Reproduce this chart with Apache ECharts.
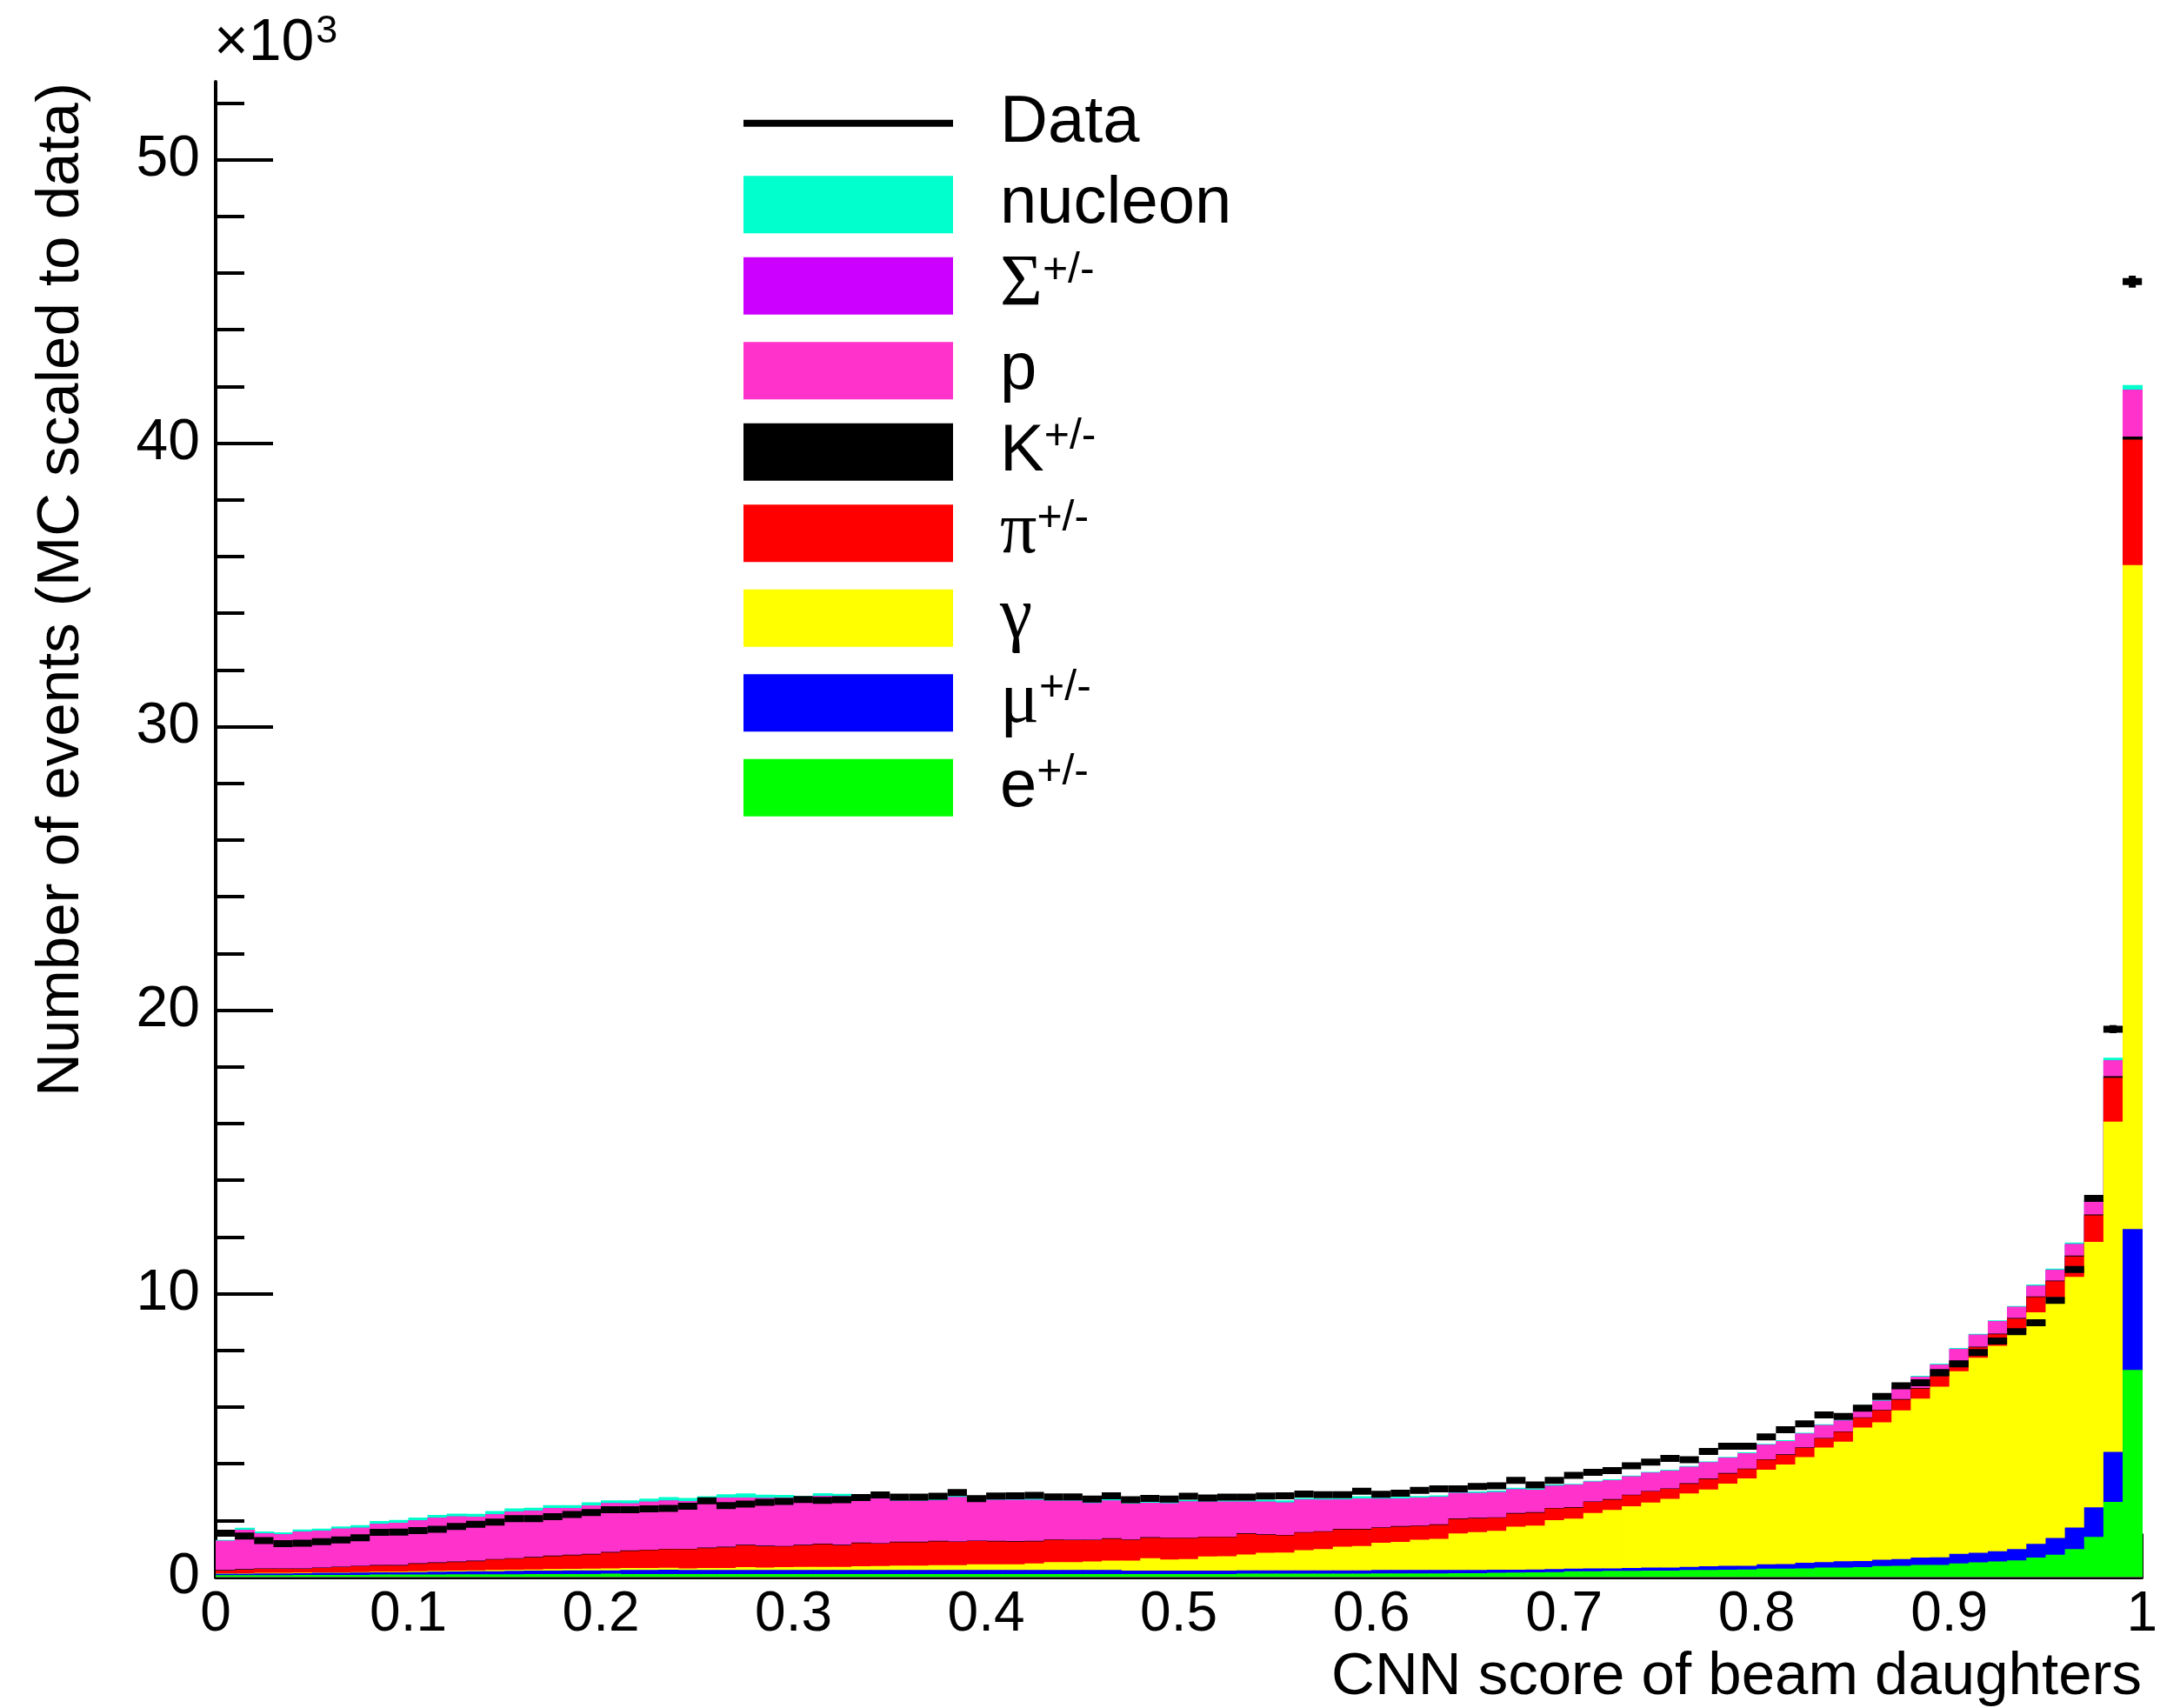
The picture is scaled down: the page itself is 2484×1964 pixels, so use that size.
<!DOCTYPE html>
<html><head><meta charset="utf-8">
<script src="https://cdn.jsdelivr.net/npm/echarts@6/dist/echarts.min.js"></script>
<style>html,body{margin:0;padding:0;background:#fff}#c{width:2484px;height:1964px}</style>
</head><body><div id="c"></div><script>
// values in units of 10^3 events, 100 bins of width 0.01 in CNN score
const binWidth = 0.01;
const xTickLabels = ['0','0.1','0.2','0.3','0.4','0.5','0.6','0.7','0.8','0.9','1'];
const yTickLabels = ['0','10','20','30','40','50'];

const electron = [.07,.07,.07,.07,.08,.08,.08,.08,.09,.09,.09,.09,.10,.10,.10,.10,.11,.11,.11,.11,.12,.11,.11,.11,
 .11,.11,.11,.11,.11,.11,.11,.11,.11,.11,.11,.11,.11,.11,.11,.11,.11,.11,.11,.11,.11,.11,.11,
 .11,.11,.11,.11,.11,.11,.12,.12,.12,.12,.12,.12,.12,.13,.13,.13,.13,.14,.14,.15,.16,.17,.18,
 .21,.21,.22,.22,.23,.23,.25,.25,.26,.27,.30,.30,.31,.34,.34,.35,.39,.40,.43,.43,.48,.52,.55,.59,.69,.79,.99,1.42,2.65,7.31];
const muon = [.05,.05,.06,.06,.06,.07,.07,.08,.08,.08,.09,.10,.10,.11,.11,.12,.12,.12,.13,.13,.12,.14,.14,.15,
 .14,.14,.14,.14,.14,.14,.14,.14,.14,.14,.14,.14,.14,.14,.14,.14,.14,.14,.14,.14,.14,.14,.14,
 .12,.12,.12,.12,.12,.12,.12,.12,.12,.12,.12,.12,.12,.12,.12,.12,.12,.11,.11,.11,.10,.10,.10,
 .09,.10,.09,.10,.11,.11,.11,.13,.14,.13,.15,.16,.20,.19,.22,.22,.22,.24,.26,.27,.34,.34,.36,.40,.48,.59,.76,1.04,1.77,4.97];
const gamma = [.02,.02,.02,.02,.02,.02,.02,.02,.02,.02,.03,.03,.03,.03,.04,.04,.04,.05,.05,.06,.07,.07,.07,.07,
 .06,.07,.07,.10,.09,.10,.11,.11,.11,.13,.14,.16,.16,.17,.17,.20,.20,.20,.23,.28,.28,.30,.33,
 .35,.44,.39,.41,.50,.51,.56,.62,.63,.71,.75,.83,.86,.96,.99,1.07,1.10,1.29,1.34,1.37,1.52,1.55,1.73,
 1.76,1.95,2.06,2.18,2.29,2.42,2.59,2.71,2.90,3.08,3.34,3.51,3.72,4.04,4.22,4.71,4.85,5.24,5.61,6.02,6.44,6.88,7.25,7.70,8.17,8.49,8.84,9.37,11.65,23.42];
const pion = [.09,.12,.14,.14,.13,.15,.18,.20,.22,.22,.26,.28,.30,.32,.37,.39,.42,.46,.48,.50,.56,.60,.63,.65,
 .67,.70,.73,.77,.75,.73,.76,.80,.76,.82,.79,.82,.82,.84,.82,.82,.81,.80,.78,.78,.77,.75,.77,
 .73,.72,.75,.73,.68,.67,.73,.63,.60,.62,.61,.61,.58,.53,.54,.48,.49,.51,.48,.46,.46,.45,.41,
 .39,.39,.36,.39,.39,.35,.34,.37,.35,.33,.35,.34,.33,.32,.34,.34,.42,.38,.35,.37,.35,.37,.41,.43,.54,.57,.72,.93,1.55,4.43];
const kaon = [.02,.02,.02,.02,.02,.02,.02,.02,.02,.02,.02,.02,.02,.02,.02,.02,.02,.02,.02,.02,.02,.02,.02,.02,
 .02,.02,.02,.02,.02,.02,.02,.02,.02,.02,.02,.02,.02,.02,.02,.02,.02,.02,.02,.02,.02,.02,.02,
 .02,.02,.02,.02,.02,.02,.02,.02,.02,.02,.02,.02,.02,.02,.02,.02,.02,.02,.02,.02,.02,.02,.02,
 .02,.02,.02,.02,.02,.02,.02,.02,.02,.02,.02,.02,.02,.02,.02,.02,.02,.02,.02,.02,.02,.02,.02,.02,.02,.02,.03,.03,.05,.10];
const proton = [1.03,1.39,1.23,1.20,1.29,1.29,1.34,1.34,1.45,1.49,1.51,1.57,1.59,1.55,1.58,1.64,1.63,1.67,1.64,1.71,1.72,1.66,1.69,1.70,
 1.68,1.68,1.73,1.67,1.68,1.70,1.60,1.68,1.71,1.61,1.57,1.44,1.44,1.43,1.56,1.42,1.44,1.45,1.44,1.36,1.37,1.29,1.33,
 1.26,1.21,1.21,1.28,1.23,1.23,1.11,1.15,1.14,1.15,1.11,1.04,1.08,1.00,.97,.99,.97,.90,.88,.89,.84,.79,.78,
 .79,.70,.67,.64,.64,.63,.58,.57,.54,.54,.51,.47,.48,.45,.38,.40,.32,.39,.40,.39,.42,.42,.44,.39,.38,.38,.41,.47,.56,1.65];
const sigma = [0,0,0,0,0,0,0,0,0,0,0,0,0,0,0,0,0,0,0,0,0,0,0,0,0,0,0,0,0,0,0,0,0,0,0,0,0,0,0,0,0,0,0,0,0,0,0,0,0,0,
 0,0,0,0,0,0,0,0,0,0,0,0,0,0,0,0,0,0,0,0,0,0,0,0,0,0,0,0,0,0,0,0,0,0,0,0,0,0,0,0,0,0,0,0,0,0,0,0,0,0];
const nucleon = [.03,.07,.07,.07,.08,.08,.08,.09,.10,.10,.10,.10,.10,.10,.11,.11,.11,.11,.11,.11,.10,.11,.11,.12,
 .11,.13,.12,.14,.12,.10,.12,.10,.09,.07,.04,.05,.05,.05,.05,.05,.05,.05,.05,.05,.05,.05,.05,
 .05,.05,.05,.05,.05,.05,.05,.07,.08,.05,.05,.05,.07,.05,.06,.05,.05,.05,.05,.05,.05,.05,.05,
 .03,.03,.03,.03,.03,.03,.03,.03,.03,.03,.03,.03,.03,.03,.03,.03,.03,.03,.03,.03,.03,.03,.03,.03,.04,.04,.05,.06,.09,.17];
const dataVals = [1.55,1.45,1.29,1.18,1.20,1.25,1.31,1.39,1.58,1.59,1.64,1.69,1.79,1.86,1.94,2.06,2.06,2.13,2.21,2.28,2.38,2.38,2.41,2.42,
 2.50,2.69,2.52,2.58,2.64,2.67,2.74,2.71,2.73,2.81,2.90,2.82,2.82,2.85,2.98,2.77,2.86,2.87,2.88,2.83,2.83,2.75,2.87,
 2.73,2.78,2.75,2.85,2.79,2.82,2.82,2.86,2.87,2.93,2.91,2.91,3.03,2.92,2.96,3.06,3.11,3.11,3.20,3.22,3.41,3.25,3.41,
 3.59,3.70,3.76,3.93,4.06,4.19,4.14,4.43,4.62,4.62,4.95,5.20,5.41,5.72,5.67,5.96,6.37,6.75,6.86,7.22,7.52,7.92,8.33,8.66,8.97,9.76,10.85,13.36,19.33,45.7];
// statistical error bars on data (only the last bins are visibly larger than the marker line)
const dataErr = [.04,.04,.04,.03,.03,.04,.04,.04,.04,.04,.04,.04,.04,.04,.04,.05,.05,.05,.05,.05,.05,.05,.05,.05,
 .05,.05,.05,.05,.05,.05,.05,.05,.05,.05,.05,.05,.05,.05,.05,.05,.05,.05,.05,.05,.05,.05,.05,
 .05,.05,.05,.05,.05,.05,.05,.05,.05,.05,.05,.05,.06,.05,.05,.06,.06,.06,.06,.06,.06,.06,.06,
 .06,.06,.06,.06,.06,.06,.06,.07,.07,.07,.07,.07,.07,.08,.08,.08,.08,.08,.08,.09,.09,.09,.09,.09,.09,.10,.10,.12,.14,.21];

const layerNames = ['e+/-','μ+/-','γ','π+/-','K+/-','p','Σ+/-','nucleon']; // bottom -> top
const layerColors = ['#00ff00','#0000ff','#ffff00','#ff0000','#000000','#ff33cc','#cc00ff','#00ffcc'];
const layers = [electron, muon, gamma, pion, kaon, proton, sigma, nucleon];

const binLow = dataVals.map((_, i) => i * binWidth);
// cumulative stacks
const cum = [];
layers.forEach((arr, k) => {
  cum.push(arr.map((v, i) => v + (k ? cum[k - 1][i] : 0)));
});

function rectItem(params, api) {
  const p0 = api.coord([api.value(0), 0]);
  const p1 = api.coord([api.value(1), api.value(2)]);
  return {type: 'rect', shape: {x: p0[0], y: p1[1], width: p1[0] - p0[0] + 0.8, height: p0[1] - p1[1]},
    style: {fill: api.visual('color')}};
}
const series = [];
for (let k = layers.length - 1; k >= 0; k--) {
  series.push({
    type: 'custom', name: layerNames[k], renderItem: rectItem, clip: true, silent: true,
    itemStyle: {color: layerColors[k]},
    encode: {x: [0, 1], y: 2},
    data: binLow.map((lo, i) => [lo, lo + binWidth, cum[k][i]])
  });
}
series.push({
  type: 'custom', name: 'Data', clip: true, silent: true, z: 5,
  itemStyle: {color: '#000'},
  encode: {x: [0, 1], y: [2, 3, 4]},
  data: binLow.map((lo, i) => [lo, lo + binWidth, dataVals[i], dataVals[i] - dataErr[i], dataVals[i] + dataErr[i]]),
  renderItem: (params, api) => {
    const a = api.coord([api.value(0), api.value(2)]);
    const b = api.coord([api.value(1), api.value(2)]);
    const mid = (api.value(0) + api.value(1)) / 2;
    const lo = api.coord([mid, api.value(3)]);
    const hi = api.coord([mid, api.value(4)]);
    return {type: 'group', children: [
      {type: 'line', shape: {x1: a[0], y1: a[1], x2: b[0], y2: b[1]}, style: {stroke: '#000', lineWidth: 8}},
      {type: 'line', shape: {x1: lo[0], y1: lo[1], x2: hi[0], y2: hi[1]}, style: {stroke: '#000', lineWidth: 8}}
    ]};
  }
});

const FONT = '"Liberation Sans", Arial, Helvetica, sans-serif';
const legendRich = {
  sp: {width: 49, fontSize: 76, lineHeight: 84},
  t: {fontSize: 76, fontFamily: FONT, color: '#000', lineHeight: 84},
  g: {fontSize: 84, fontFamily: '"Liberation Serif", "DejaVu Serif", serif', color: '#000', lineHeight: 84},
  s: {fontSize: 50, fontFamily: FONT, color: '#000', verticalAlign: 'top', padding: [0, 0, 34, 0]}
};
const legendText = {
  'Data': '{sp|}{t|Data}{s| }', 'nucleon': '{sp|}{t|nucleon}{s| }', 'Σ+/-': '{sp|}{g|Σ}{s|+/-}', 'p': '{sp|}{t|p}{s| }',
  'K+/-': '{sp|}{t|K}{s|+/-}', 'π+/-': '{sp|}{g|π}{s|+/-}', 'γ': '{sp|}{g|γ}{s| }', 'μ+/-': '{sp|}{g|μ}{s|+/-}', 'e+/-': '{sp|}{t|e}{s|+/-}'
};

const chart = echarts.init(document.getElementById('c'), null, {renderer: 'canvas'});
const yMajor = [0, 10, 20, 30, 40, 50];
const yMinor = [2,4,6,8,12,14,16,18,22,24,26,28,32,34,36,38,42,44,46,48,52];
chart.setOption({
  animation: false,
  backgroundColor: '#fff',
  grid: {left: 248, right: 18, top: 94, bottom: 150.5, containLabel: false},
  xAxis: {
    type: 'value', min: 0, max: 1, interval: 0.1,
    axisLine: {lineStyle: {color: '#000', width: 4}},
    axisTick: {inside: true, length: 50, lineStyle: {color: '#000', width: 4}},
    minorTick: {show: true, splitNumber: 5, length: 25, lineStyle: {color: '#000', width: 4}},
    splitLine: {show: false},
    axisLabel: {fontSize: 64, fontFamily: FONT, color: '#000', margin: 12,
      formatter: v => xTickLabels[Math.round(v * 10)]}
  },
  yAxis: [{
    type: 'value', min: 0, max: 52.75,
    axisLine: {lineStyle: {color: '#000', width: 4}},
    axisTick: {inside: true, length: 66, customValues: yMajor, lineStyle: {color: '#000', width: 4}},
    splitLine: {show: false},
    axisLabel: {fontSize: 66, fontFamily: FONT, color: '#000', margin: 18, customValues: yMajor,
      formatter: v => yTickLabels[Math.round(v / 10)]}
  }, {
    type: 'value', min: 0, max: 52.75, position: 'left',
    axisLine: {show: false},
    axisTick: {inside: true, length: 33, customValues: yMinor, lineStyle: {color: '#000', width: 4}},
    splitLine: {show: false},
    axisLabel: {show: false}
  }],
  legend: {
    orient: 'vertical', left: 850, top: 94.7, itemWidth: 241, itemHeight: 66, itemGap: 13.5,
    selectedMode: false, align: 'left',
    data: [
      {name: 'Data', icon: 'path://M0,0L241,0L241,8L0,8Z'},
      {name: 'nucleon', icon: 'rect'}, {name: 'Σ+/-', icon: 'rect'}, {name: 'p', icon: 'rect'},
      {name: 'K+/-', icon: 'rect'}, {name: 'π+/-', icon: 'rect'}, {name: 'γ', icon: 'rect'},
      {name: 'μ+/-', icon: 'rect'}, {name: 'e+/-', icon: 'rect'}
    ],
    formatter: n => legendText[n],
    textStyle: {fontSize: 76, fontFamily: FONT, color: '#000', rich: legendRich}
  },
  graphic: [
    {type: 'text', left: 246, top: 14, style: {
      text: '{a|×10}{b|3}', rich: {
        a: {fontSize: 68, fontFamily: FONT, fill: '#000'},
        b: {fontSize: 45, fontFamily: FONT, fill: '#000', verticalAlign: 'top', padding: [0, 0, 28, 2]}
      }}},
    {type: 'text', x: 71, y: 678, rotation: Math.PI / 2, style: {
      text: 'Number of events (MC scaled to data)', fontSize: 69, fontFamily: FONT, fill: '#000',
      align: 'center', verticalAlign: 'middle'}},
    {type: 'text', x: 2463, y: 1929, style: {
      text: 'CNN score of beam daughters', fontSize: 69, fontFamily: FONT, fill: '#000',
      align: 'right', verticalAlign: 'middle'}}
  ],
  series: series
});
</script></body></html>
